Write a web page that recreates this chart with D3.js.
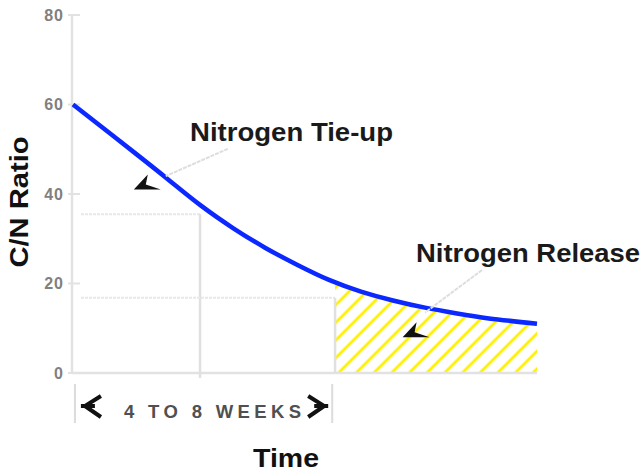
<!DOCTYPE html>
<html><head><meta charset="utf-8">
<script src="https://cdn.jsdelivr.net/npm/d3@7"></script>
<style>body{margin:0;background:#fff}svg{display:block}text{font-family:"Liberation Sans",Arial,sans-serif}</style>
</head><body><svg id="c" width="642" height="472"></svg>
<script>
// ---- data ----
const weeks   = [0, 1, 2, 3, 4, 5, 6, 7, 8, 9, 10, 11, 12, 13, 14.5];
const cnRatio = [60, 54.4, 48.8, 43.1, 37.4, 32.4, 28.0, 24.2, 20.8, 18.2, 16.2, 14.6, 13.3, 12.2, 11.0];
const yTicks = [0, 20, 40, 60, 80];
const tieUpRef   = {week: 3.97, ratio: 35.5};
const releaseRef = {week: 8.19, ratio: 16.8};
const refStartWeek = 0.25;
const hatchWeeks = [8.19, 14.5];
const labels = {tieUp: "Nitrogen Tie-up", release: "Nitrogen Release", x: "Time", y: "C/N  Ratio", span: "4  TO  8  WEEKS"};
const tieUpLeader   = {from: [4.84, 50.1], to: [2.9, 44.0], tip: [1.9, 41.0]};
const releaseLeader = {from: [12.78, 23.0], to: [11.0, 13.5], tip: [10.3, 8.0]};
const spanWeeks = [0.06, 8.1];

// ---- scales ----
const svg = d3.select("#c");
const x = d3.scaleLinear().domain([0, 14.5]).range([73, 537]);
const y = d3.scaleLinear().domain([0, 80]).range([373, 15]);
const pts = weeks.map((w, i) => [w, cnRatio[i]]);

// hatch pattern
const defs = svg.append("defs");
const pat = defs.append("pattern").attr("id", "hatch").attr("patternUnits", "userSpaceOnUse")
  .attr("width", 12.5).attr("height", 12.5).attr("patternTransform", "rotate(45)");
pat.append("line").attr("x1", 3).attr("y1", -2).attr("x2", 3).attr("y2", 15)
  .attr("stroke", "#fff000").attr("stroke-width", 2.8);
defs.append("clipPath").attr("id", "hclip").append("rect")
  .attr("x", x(hatchWeeks[0])).attr("y", y(80)).attr("width", x(hatchWeeks[1]) - x(hatchWeeks[0])).attr("height", y(0) - y(80));

const curve = d3.curveNatural;
svg.append("path").datum(pts).attr("clip-path", "url(#hclip)")
  .attr("d", d3.area().x(d => x(d[0])).y0(y(0)).y1(d => y(d[1]) + 2).curve(curve))
  .attr("fill", "url(#hatch)");

// axes
const grey = "#e2e2e2";
svg.append("line").attr("x1", x(0) - 1).attr("x2", x(0) - 1).attr("y1", y(80)).attr("y2", y(0) + 1)
  .attr("stroke", grey).attr("stroke-width", 2.5);
svg.append("line").attr("x1", x(0) - 1).attr("x2", x(14.5)).attr("y1", y(0)).attr("y2", y(0))
  .attr("stroke", grey).attr("stroke-width", 2.5);
const yAxis = d3.axisLeft(y).tickValues(yTicks).tickSize(0).tickPadding(0);
const ga = svg.append("g").attr("transform", `translate(${x(0) - 9},0)`).call(yAxis);
ga.select(".domain").remove();
ga.selectAll("text").attr("font-size", 16).attr("font-weight", "bold").attr("fill", "#808080")
  .attr("font-family", '"Liberation Sans",Arial,sans-serif').attr("letter-spacing", 1);
svg.selectAll(".ytk").data(yTicks).enter().append("line")
  .attr("x1", x(0) - 5).attr("x2", x(0) + 7).attr("y1", d => y(d)).attr("y2", d => y(d))
  .attr("stroke", grey).attr("stroke-width", 2);

// reference lines
[tieUpRef, releaseRef].forEach((r, i) => {
  svg.append("line").attr("x1", x(refStartWeek)).attr("x2", x(r.week)).attr("y1", y(r.ratio)).attr("y2", y(r.ratio))
    .attr("stroke", "#e8e8e8").attr("stroke-width", 2).attr("stroke-dasharray", "3,1");
  svg.append("line").attr("x1", x(r.week)).attr("x2", x(r.week)).attr("y1", y(r.ratio)).attr("y2", y(i === 0 ? -1.1 : 0))
    .attr("stroke", "#e0e0e0").attr("stroke-width", 2.5);
});

// curve
svg.append("path").datum(pts)
  .attr("d", d3.line().x(d => x(d[0])).y(d => y(d[1])).curve(curve))
  .attr("fill", "none").attr("stroke", "#0a28ff").attr("stroke-width", 4.5).attr("stroke-linecap", "butt");

// leaders + arrowheads
function leader(L) {
  svg.append("line").attr("x1", x(L.from[0])).attr("y1", y(L.from[1])).attr("x2", x(L.to[0])).attr("y2", y(L.to[1]))
    .attr("stroke", "#dddddd").attr("stroke-width", 2).attr("stroke-dasharray", "4,1");
  const tx = x(L.tip[0]), ty = y(L.tip[1]);
  svg.append("path").attr("d", `M${tx},${ty} L${tx + 14},${ty - 15} L${tx + 12},${ty - 5} L${tx + 27},${ty} Z`)
    .attr("fill", "#111");
}
leader(tieUpLeader);
leader(releaseLeader);

// labels
svg.append("text").attr("x", 190).attr("y", 141).attr("font-size", 26).attr("font-weight", "bold")
  .attr("fill", "#1a1a1a").attr("textLength", 203).attr("lengthAdjust", "spacingAndGlyphs").text(labels.tieUp);
svg.append("text").attr("x", 416).attr("y", 262).attr("font-size", 26).attr("font-weight", "bold")
  .attr("fill", "#1a1a1a").attr("textLength", 224).attr("lengthAdjust", "spacingAndGlyphs").text(labels.release);
svg.append("text").attr("x", 253).attr("y", 467).attr("font-size", 26).attr("font-weight", "bold")
  .attr("fill", "#111").attr("textLength", 66).attr("lengthAdjust", "spacingAndGlyphs").text(labels.x);
svg.append("text").attr("transform", "translate(28,202) rotate(-90)").attr("text-anchor", "middle")
  .attr("font-size", 26).attr("font-weight", "bold").attr("fill", "#111")
  .attr("textLength", 131).attr("lengthAdjust", "spacingAndGlyphs").text(labels.y);

// span bracket
const s0 = x(spanWeeks[0]), s1 = x(spanWeeks[1]);
[s0, s1].forEach(v => svg.append("line").attr("x1", v).attr("x2", v).attr("y1", 384).attr("y2", 423)
  .attr("stroke", "#dcdcdc").attr("stroke-width", 2));
svg.append("path").attr("d", `M${s0 + 26},${396} L${s0 + 10},${406} L${s0 + 26},${417} M${s0 + 6},${406} L${s0 + 20},${406}`)
  .attr("fill", "none").attr("stroke", "#111").attr("stroke-width", 4);
svg.append("path").attr("d", `M${s1 - 24},${396} L${s1 - 8},${406} L${s1 - 24},${417} M${s1 - 4},${406} L${s1 - 18},${406}`)
  .attr("fill", "none").attr("stroke", "#111").attr("stroke-width", 4);
svg.append("text").attr("x", 124).attr("y", 418).attr("font-size", 18.5).attr("font-weight", "bold")
  .attr("fill", "#505050").attr("textLength", 177).attr("lengthAdjust", "spacing").text(labels.span);
</script></body></html>
